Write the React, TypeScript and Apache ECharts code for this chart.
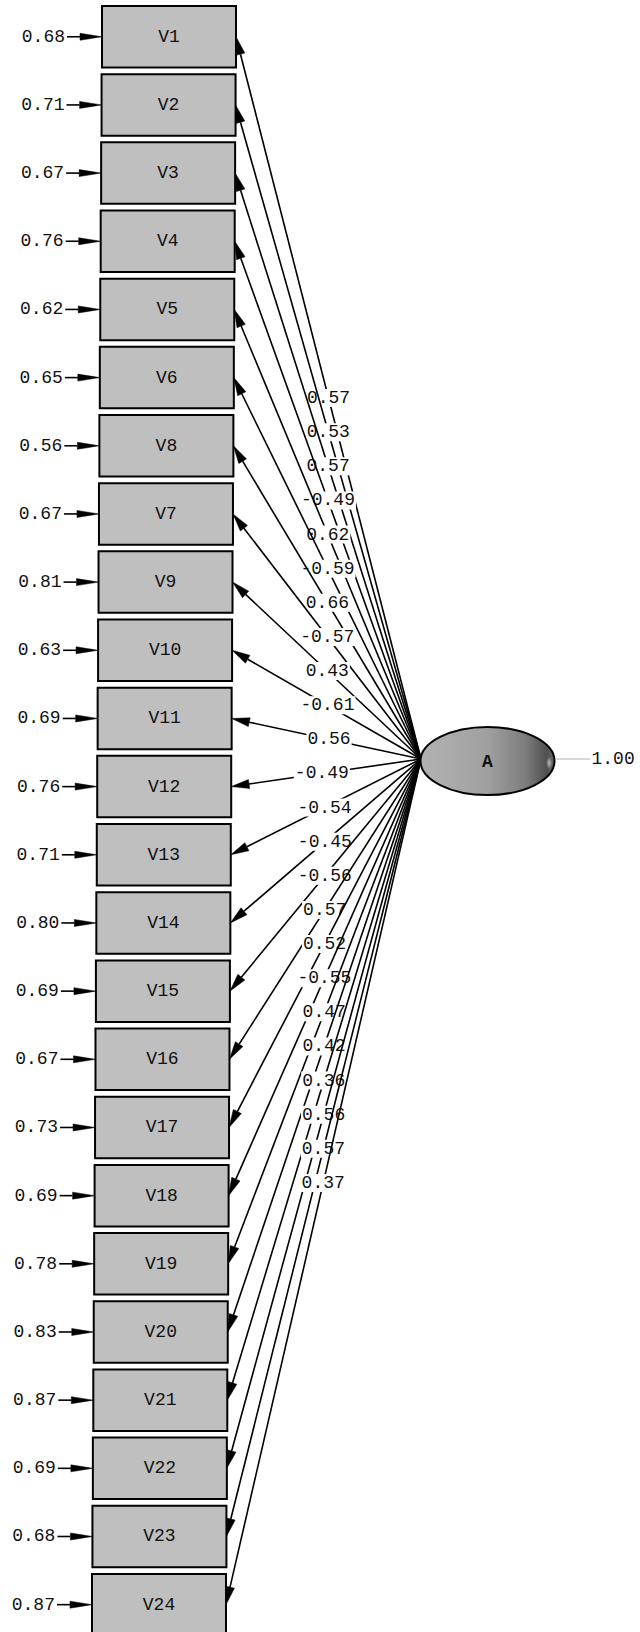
import React, { useEffect, useRef } from "react";
import * as echarts from "echarts";

// ---- data ----
const variables = ["V1", "V2", "V3", "V4", "V5", "V6", "V8", "V7", "V9", "V10", "V11", "V12", "V13", "V14", "V15", "V16", "V17", "V18", "V19", "V20", "V21", "V22", "V23", "V24"];
const errorVariances = [0.68, 0.71, 0.67, 0.76, 0.62, 0.65, 0.56, 0.67, 0.81, 0.63, 0.69, 0.76, 0.71, 0.8, 0.69, 0.67, 0.73, 0.69, 0.78, 0.83, 0.87, 0.69, 0.68, 0.87];
const loadings = [0.57, 0.53, 0.57, -0.49, 0.62, -0.59, 0.66, -0.57, 0.43, -0.61, 0.56, -0.49, -0.54, -0.45, -0.56, 0.57, 0.52, -0.55, 0.47, 0.42, 0.36, 0.56, 0.57, 0.37];
const factorNames = ["A"];
const factorVariances = [1.0];

// ---- layout (diagram units) ----
const W = 640;
const H = 1632;
const FONT = '18px "Liberation Mono", "Courier New", monospace';
const FONT_BOLD = 'bold 18px "Liberation Mono", "Courier New", monospace';
const BOX_TOP0 = 6;
const BOX_STEP = 68.17;
const BOX_H = 61.5;
const BOX_W = 134;
const BOX_LEFT0 = 102;
const BOX_SHIFT = 0.435;
const HUB_X = 421;
const HUB_Y = 759;
const ELL_CX = 487.5;
const ELL_CY = 761;
const ELL_RX = 67;
const ELL_RY = 34;
const LABEL_Y0 = 398;
const LABEL_STEP = 34.13;

const fmt = (v: number) => v.toFixed(2);

function renderIndicator(params: any, api: any) {
  const i = api.value(0);
  const loading = api.value(1);
  const err = api.value(2);
  const name = variables[i];
  const c = (x: number, y: number) => api.coord([x, y]);

  const top = BOX_TOP0 + BOX_STEP * i;
  const left = BOX_LEFT0 - BOX_SHIFT * i;
  const right = left + BOX_W;
  const cy = top + BOX_H / 2;

  const [hx, hy] = c(HUB_X, HUB_Y);
  const [tx, ty] = c(right, cy);
  const dx = tx - hx;
  const dy = ty - hy;
  const len = Math.sqrt(dx * dx + dy * dy);
  const ux = dx / len;
  const uy = dy / len;
  const nx = -uy;
  const ny = ux;
  const headL = 18;
  const headW = 4.5;
  const bx = tx - ux * headL;
  const by = ty - uy * headL;

  const ly = LABEL_Y0 + LABEL_STEP * i;
  const t = (ly - HUB_Y) / (cy - HUB_Y);
  const lx = HUB_X + t * (right - HUB_X);
  const [plx, ply] = c(lx, ly);

  const [rx0, ry0] = c(left, top);
  const [rx1, ry1] = c(right, top + BOX_H);
  const [bcx, bcy] = c((left + right) / 2, cy);
  const [ex, ey] = c(left - 37, cy);
  const [al0x] = c(left - 35, cy);
  const [ahx] = c(left - 22, cy);
  const [atx, aty] = c(left, cy);

  return {
    type: "group",
    children: [
      {
        type: "line",
        shape: { x1: hx, y1: hy, x2: bx, y2: by },
        style: { stroke: "#000", lineWidth: 1.6 },
      },
      {
        type: "polygon",
        shape: { points: [[tx, ty], [bx + nx * headW, by + ny * headW], [bx - nx * headW, by - ny * headW]] },
        style: { fill: "#000", stroke: "#000", lineWidth: 0.5 },
      },
      {
        type: "text",
        style: {
          text: fmt(loading),
          x: plx,
          y: ply,
          font: FONT,
          fill: "#111",
          textAlign: "center",
          textVerticalAlign: "middle",
          verticalAlign: "middle",
          backgroundColor: "#fff",
          padding: [0, 1],
        },
      },
      {
        type: "rect",
        shape: { x: rx0, y: ry0, width: rx1 - rx0, height: ry1 - ry0 },
        style: { fill: "#bfbfbf", stroke: "#000", lineWidth: 2 },
      },
      {
        type: "text",
        style: {
          text: name,
          x: bcx,
          y: bcy,
          font: FONT,
          fill: "#111",
          textAlign: "center",
          textVerticalAlign: "middle",
          verticalAlign: "middle",
        },
      },
      {
        type: "text",
        style: {
          text: fmt(err),
          x: ex,
          y: ey,
          font: FONT,
          fill: "#111",
          textAlign: "right",
          textVerticalAlign: "middle",
          verticalAlign: "middle",
        },
      },
      {
        type: "line",
        shape: { x1: al0x, y1: aty, x2: ahx, y2: aty },
        style: { stroke: "#000", lineWidth: 1.6 },
      },
      {
        type: "polygon",
        shape: { points: [[atx, aty], [ahx, aty - 3.5], [ahx, aty + 3.5]] },
        style: { fill: "#000", stroke: "#000", lineWidth: 0.5 },
      },
    ],
  };
}

function renderFactor(params: any, api: any) {
  const i = api.value(0);
  const v = api.value(1);
  const c = (x: number, y: number) => api.coord([x, y]);
  const [cx, cy] = c(ELL_CX, ELL_CY);
  const [ex] = c(ELL_CX + ELL_RX, ELL_CY);
  const [, ey] = c(ELL_CX, ELL_CY + ELL_RY);
  const rx = ex - cx;
  const ry = ey - cy;
  const [d0x, dy] = c(ELL_CX + ELL_RX, ELL_CY - 2);
  const [d1x] = c(ELL_CX + ELL_RX + 35, ELL_CY - 2);
  const [vx] = c(ELL_CX + ELL_RX + 37, ELL_CY - 2);
  return {
    type: "group",
    children: [
      {
        type: "ellipse",
        shape: { cx, cy, rx, ry },
        style: {
          fill: new echarts.graphic.LinearGradient(0, 0, 1, 0, [
            { offset: 0, color: "#b2b2b2" },
            { offset: 0.5, color: "#a0a0a0" },
            { offset: 0.78, color: "#7e7e7e" },
            { offset: 0.94, color: "#505050" },
            { offset: 1, color: "#6a6a6a" },
          ]),
          stroke: "#000",
          lineWidth: 2,
        },
      },
      {
        type: "ellipse",
        shape: { cx: cx + rx * 0.92, cy: cy + 2, rx: 3, ry: 6 },
        style: {
          fill: new echarts.graphic.RadialGradient(0.5, 0.5, 0.5, [
            { offset: 0, color: "rgba(255,255,255,0.6)" },
            { offset: 1, color: "rgba(255,255,255,0)" },
          ]),
        },
      },
      {
        type: "text",
        style: {
          text: factorNames[i],
          x: cx,
          y: cy + 1,
          font: FONT_BOLD,
          fill: "#111",
          textAlign: "center",
          textVerticalAlign: "middle",
          verticalAlign: "middle",
        },
      },
      {
        type: "line",
        shape: { x1: d0x, y1: dy, x2: d1x, y2: dy },
        style: { stroke: "#666", lineWidth: 1, lineDash: [1, 1] },
      },
      {
        type: "text",
        style: {
          text: fmt(v),
          x: vx,
          y: dy,
          font: FONT,
          fill: "#111",
          textAlign: "left",
          textVerticalAlign: "middle",
          verticalAlign: "middle",
        },
      },
    ],
  };
}

export default function App() {
  const ref = useRef<HTMLDivElement>(null);
  useEffect(() => {
    document.body.style.margin = "0";
    const chart = echarts.init(ref.current!, null, { renderer: "svg" });
    const indicatorData = variables.map((_, i) => [i, loadings[i], errorVariances[i]]);
    const factorData = factorNames.map((_, i) => [i, factorVariances[i]]);
    chart.setOption({
      animation: false,
      backgroundColor: "#fff",
      grid: { left: 0, right: 0, top: 0, bottom: 0 },
      xAxis: { type: "value", min: 0, max: W, show: false },
      yAxis: { type: "value", min: 0, max: H, inverse: true, show: false },
      series: [
        {
          type: "custom",
          data: indicatorData,
          renderItem: renderIndicator,
          silent: true,
          z: 2,
        },
        {
          type: "custom",
          data: factorData,
          renderItem: renderFactor,
          silent: true,
          z: 3,
        },
      ],
    });
    return () => chart.dispose();
  }, []);
  return <div ref={ref} style={{ position: "absolute", left: 0, top: 0, width: W, height: H }} />;
}
